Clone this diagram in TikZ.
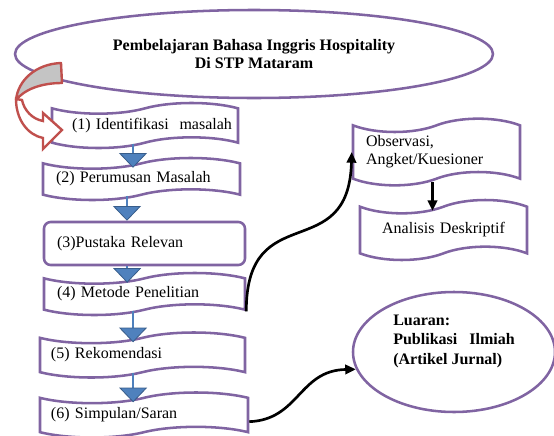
\documentclass[tikz,border=0pt]{standalone}
\usepackage{fontspec}
\setmainfont{Liberation Serif}
\usetikzlibrary{shapes.geometric,shapes.symbols,arrows.meta,positioning,calc}

\definecolor{boxpurple}{HTML}{8064A2}
\definecolor{flowblue}{HTML}{4F81BD}
\definecolor{flowedge}{HTML}{385D8A}
\definecolor{curvered}{HTML}{C0504D}
\definecolor{curvegray}{HTML}{C4C4C4}

\begin{document}
\begin{tikzpicture}[
    x=0.75pt, y=-0.75pt,
    font=\fontsize{12}{13.5}\selectfont,
    tapebox/.style={tape, draw=boxpurple, line width=1.9pt, tape bend height=8pt, align=left, inner xsep=0pt, inner ysep=0pt},
    roundbox/.style={rectangle, rounded corners=5pt, draw=boxpurple, line width=1.9pt, align=left, inner xsep=0pt, inner ysep=0pt},
    oval/.style={ellipse, draw=boxpurple, line width=1.9pt, inner sep=0pt, font=\fontsize{12}{13}\selectfont\bfseries},
    flow/.style={-{Triangle[width=21pt, length=11pt, color=flowedge, fill=flowblue, line width=0.6pt]}, flowblue, line width=1.5pt},
    link/.style={-{Triangle[width=7pt, length=8pt]}, line width=2pt},
]
\clip (0,0) rectangle (554,436);

% Title
\node[oval, minimum width=358.5pt, minimum height=66pt, align=center] (title) at (254,54) {Pembelajaran Bahasa Inggris Hospitality\\Di STP Mataram};

% Research steps (left column)
\node[tapebox, minimum width=139.5pt, minimum height=33.75pt, text width=139.5pt] (identifikasi) at (145,125.5) {\hspace*{15pt}(1) Identifikasi\ \ masalah};
\node[tapebox, minimum width=147.75pt, minimum height=31.5pt, text width=147.75pt] (perumusan) at (141.5,179) {\hspace*{9.75pt}(2) Perumusan Masalah};
\node[roundbox, minimum width=150.75pt, minimum height=32.25pt, text width=150.75pt] (pustaka) at (144.5,243.5) {\hspace*{9.75pt}(3)Pustaka Relevan};
\node[tapebox, minimum width=150.75pt, minimum height=31.5pt, text width=150.75pt] (metode) at (144.5,294) {\hspace*{9.75pt}(4) Metode Penelitian};
\node[tapebox, minimum width=153.75pt, minimum height=33.75pt, text width=153.75pt] (rekomendasi) at (142.5,355) {\hspace*{8.25pt}(5) Rekomendasi};
\node[tapebox, minimum width=156pt, minimum height=33.75pt, text width=156pt] (simpulan) at (144,415) {\hspace*{8.25pt}(6) Simpulan/Saran};

% Method and output (right column)
\node[tapebox, tape bend height=10pt, minimum width=125.25pt, minimum height=50pt, text width=125.25pt] (observasi) at (436.5,152) {\hspace*{9.75pt}Observasi,\\\hspace*{9.75pt}Angket/Kuesioner};
\node[tapebox, tape bend height=10pt, minimum width=125.25pt, minimum height=45pt, text width=125.25pt, align=center] (analisis) at (443.5,230) {Analisis Deskriptif};
\node[oval, minimum width=151.5pt, minimum height=90pt, align=left, font=\fontsize{12}{14.5}\selectfont\bfseries] (luaran) at (454,352) {Luaran:\\Publikasi\ \ \ Ilmiah\\(Artikel Jurnal)\\[4pt]};

% Curved block arrow from title to step 1
\draw[curvered, line width=1.8pt, fill=curvegray, line join=round]
    (61,63) .. controls (36,64) and (18,80) .. (16,100)
    .. controls (24,90) and (40,83) .. (62,83) -- cycle;
\draw[curvered, line width=1.8pt, fill=white, line join=miter]
    (16,99) .. controls (16,120) and (28,135) .. (43,138) -- (43,149) -- (62,130)
    -- (43,113) -- (43,121) .. controls (32,119) and (24,110) .. (22,100) -- cycle;

% Flow between steps
\draw[flow] ([xshift=-9pt]identifikasi.south) -- ([xshift=-9pt, yshift=-4pt]identifikasi.south |- perumusan.north);
\draw[flow] ([xshift=-10.9pt]perumusan.south) -- ([xshift=-10.9pt]perumusan.south |- pustaka.north);
\draw[flow] ([xshift=-13pt]pustaka.south) -- ([xshift=-13pt, yshift=-4pt]pustaka.south |- metode.north);
\draw[flow] ([xshift=-8.6pt]metode.south) -- ([xshift=-8.6pt, yshift=-4pt]metode.south |- rekomendasi.north);
\draw[flow] ([xshift=-7pt]rekomendasi.south) -- ([xshift=-7pt, yshift=-4pt]rekomendasi.south |- simpulan.north);

% Links to the right column
\draw[link] (metode.south east) .. controls +(0,-115) and +(-3,115) .. (observasi.west);
\draw[link] ([xshift=-3pt, yshift=-2pt]observasi.south) -- ([xshift=-3pt, yshift=-4pt]observasi.south |- analisis.north);
\draw[link] ([yshift=-5pt]simpulan.east) .. controls +(50,-2) and +(-57,1) .. (luaran.190);

\end{tikzpicture}
\end{document}
